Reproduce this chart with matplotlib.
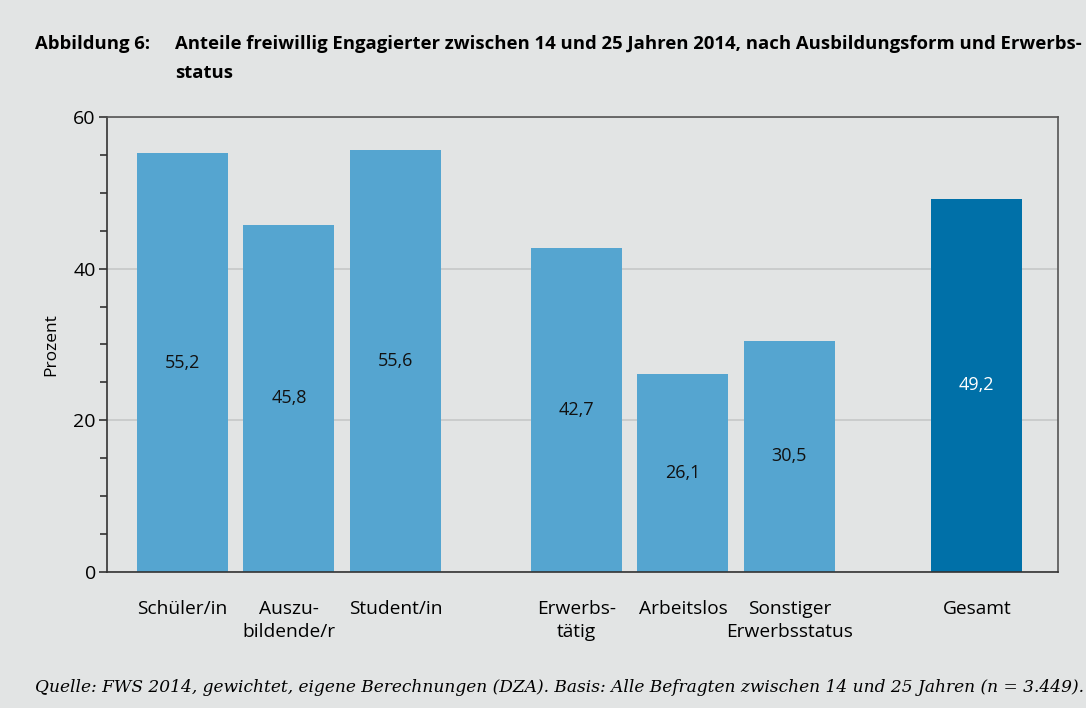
import numpy as np
import matplotlib.pyplot as plt
from matplotlib.ticker import MultipleLocator

kategorien = ['Schüler/in', 'Auszu-\nbildende/r', 'Student/in',
              'Erwerbs-\ntätig', 'Arbeitslos', 'Sonstiger\nErwerbsstatus', 'Gesamt']
anteile = [55.2, 45.8, 55.6, 42.7, 26.1, 30.5, 49.2]
gruppe = [0, 0, 0, 1, 1, 1, 2]

bg = '#e2e4e4'
hell = '#55a5d0'
dunkel = '#0070a8'

plt.rcParams['font.family'] = ['Open Sans', 'DejaVu Sans']

# positions with gaps between groups
gap = [0, 0.7, 1.46]
x = np.array([i + gap[g] for i, g in enumerate(gruppe)])
farben = [dunkel if g == 2 else hell for g in gruppe]

fig = plt.figure(figsize=(10.86, 7.08), dpi=100, facecolor=bg)
ax = fig.add_axes([0.0985, 0.192, 0.8755, 0.643], facecolor=bg)

ax.bar(x, anteile, width=0.854, color=farben, zorder=2)
for xi, v, g in zip(x, anteile, gruppe):
    ax.text(xi, v / 2, f'{v:.1f}'.replace('.', ','), ha='center', va='center',
            fontsize=13, color='white' if g == 2 else '#111111', zorder=3)

ax.set_xlim(-0.709, 8.22)
ax.set_ylim(0, 60)
ax.yaxis.set_major_locator(MultipleLocator(20))
ax.yaxis.set_minor_locator(MultipleLocator(5))
ax.grid(axis='y', color='#c6c8c8', linewidth=1.2, zorder=1)
ax.set_xticks(x)
ax.set_xticklabels(kategorien, fontsize=13.8, linespacing=1.35)
ax.tick_params(axis='x', length=0, pad=20)
ax.tick_params(axis='y', which='major', length=6, width=1.2, color='#333333', labelsize=14, pad=2)
ax.tick_params(axis='y', which='minor', length=5, width=1.2, color='#333333')
for s in ax.spines.values():
    s.set_color('#555555')
    s.set_linewidth(1.2)
ax.spines['left'].set_color('#333333')
ax.spines['bottom'].set_color('#333333')
ax.set_ylabel('Prozent', fontsize=12.5, labelpad=10)

fig.text(35 / 1086, 1 - 44 / 708, 'Abbildung 6:', fontsize=13.3, fontweight='bold', va='center')
fig.text(175 / 1086, 1 - 44 / 708,
         'Anteile freiwillig Engagierter zwischen 14 und 25 Jahren 2014, nach Ausbildungsform und Erwerbs-',
         fontsize=13.3, fontweight='bold', va='center')
fig.text(175 / 1086, 1 - 73 / 708, 'status', fontsize=13.3, fontweight='bold', va='center')
fig.text(35 / 1086, 1 - 688 / 708,
         'Quelle: FWS 2014, gewichtet, eigene Berechnungen (DZA). Basis: Alle Befragten zwischen 14 und 25 Jahren (n = 3.449).',
         fontsize=12.25, style='italic', family=['DejaVu Serif'], va='center')

plt.savefig('out.png', facecolor=bg)
